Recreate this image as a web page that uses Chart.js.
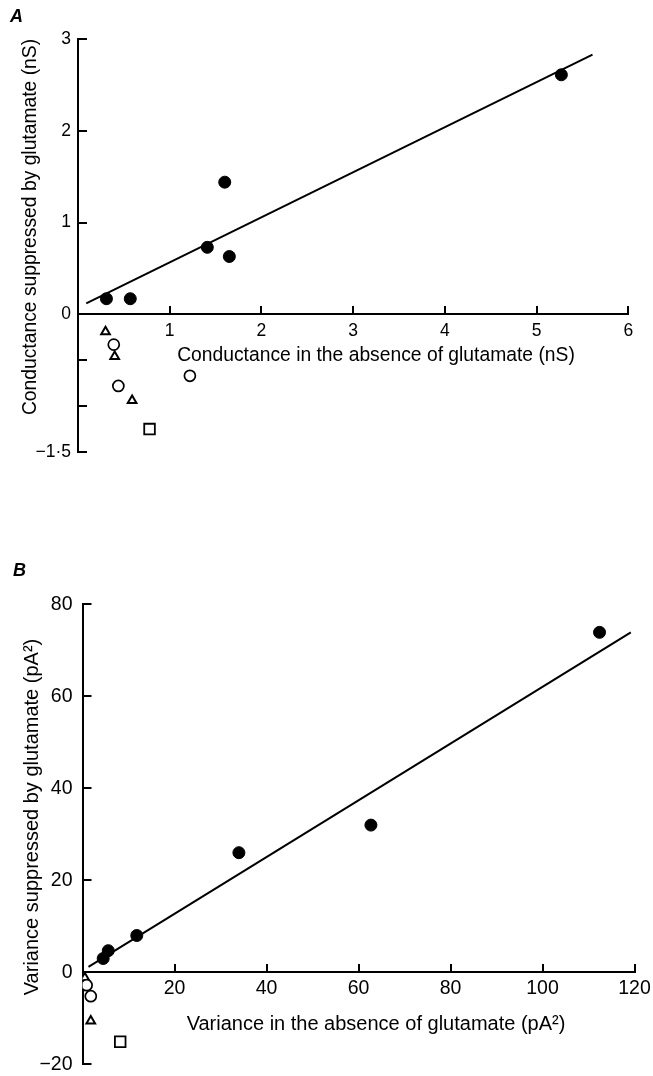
<!DOCTYPE html>
<html>
<head>
<meta charset="utf-8">
<script src="https://cdn.jsdelivr.net/npm/chart.js@4.4.1/dist/chart.umd.min.js"></script>
<style>
    html, body { margin: 0; padding: 0; background: #fff; }
    body { width: 653px; height: 1076px; position: relative; overflow: hidden; font-family: "Liberation Sans", Arial, sans-serif; color: #000; }
    .panel { position: absolute; left: 0; width: 680px; }
    .panel canvas { display: block; }
    .lbl { position: absolute; white-space: nowrap; line-height: 1; }
    .letter { font-style: italic; font-weight: bold; font-size: 18px; }
    .xtitle { transform: translate(-50%, -50%); }
    .ytitle { transform: translate(-50%, -50%) rotate(-90deg); }
</style>
</head>
<body>
<div class="panel" style="top:0;height:480px"><canvas id="chartA" width="680" height="480"></canvas></div>
<div class="panel" style="top:530px;height:580px"><canvas id="chartB" width="680" height="580"></canvas></div>

<div class="lbl letter" style="left:10px;top:7px">A</div>
<div class="lbl xtitle" style="left:376px;top:355px;font-size:19.3px">Conductance in the absence of glutamate (nS)</div>
<div class="lbl ytitle" style="left:30px;top:227px;font-size:19.3px">Conductance suppressed by glutamate (nS)</div>

<div class="lbl letter" style="left:13px;top:561px">B</div>
<div class="lbl xtitle" style="left:376px;top:1023px;font-size:20px">Variance in the absence of glutamate (pA²)</div>
<div class="lbl ytitle" style="left:31px;top:817px;font-size:20px">Variance suppressed by glutamate (pA²)</div>

<script>
// panel A: conductance (nS)
var aFilledX = [0.31, 0.57, 1.41, 1.60, 1.65, 5.27];
var aFilledY = [0.17, 0.17, 0.73, 1.44, 0.63, 2.61];
var aOpenX = [0.39, 0.44, 1.22];
var aOpenY = [-0.33, -0.78, -0.67];
var aTriX = [0.30, 0.40, 0.59];
var aTriY = [-0.19, -0.46, -0.94];
var aSquareX = [0.78];
var aSquareY = [-1.25];
var aFitX = [0.09, 5.61];
var aFitY = [0.12, 2.83];
var aXTicks = [1, 2, 3, 4, 5, 6];
var aYTicks = [-1.5, -1, -0.5, 0, 1, 2, 3];
var aYLabels = { '3': '3', '2': '2', '1': '1', '0': '0', '-1.5': '\u22121\u00b75' };

// panel B: variance (pA^2)
var bFilledX = [4.5, 5.6, 11.8, 34.0, 62.7, 112.4];
var bFilledY = [3.0, 4.7, 8.0, 26.0, 32.0, 73.9];
var bOpenX = [0.9, 1.8];
var bOpenY = [-2.8, -5.2];
var bTriX = [0.5, 1.8];
var bTriY = [-1.2, -10.6];
var bSquareX = [8.2];
var bSquareY = [-15.1];
var bFitX = [1.3, 119.2];
var bFitY = [1.2, 73.9];
var bXTicks = [20, 40, 60, 80, 100, 120];
var bYTicks = [-20, 0, 20, 40, 60, 80];
var bYLabels = { '80': '80', '60': '60', '40': '40', '20': '20', '0': '0', '-20': '\u221220' };

document.addEventListener('DOMContentLoaded', function () {
    // canvases are a bit larger than the page so the chart area is not squeezed by label padding
    makeChart('chartA', {
        filled: [aFilledX, aFilledY], open: [aOpenX, aOpenY], tri: [aTriX, aTriY],
        square: [aSquareX, aSquareY], fit: [aFitX, aFitY],
        xMax: 6, yMin: -1.5, yMax: 3, xTicks: aXTicks, yTicks: aYTicks, yLabels: aYLabels,
        fontSize: 17.5, yWidth: 78, xPad: 15, yPad: 16,
        padding: { top: 39, left: 0, right: 680 - 628.3, bottom: 28 }
    });
    makeChart('chartB', {
        filled: [bFilledX, bFilledY], open: [bOpenX, bOpenY], tri: [bTriX, bTriY],
        square: [bSquareX, bSquareY], fit: [bFitX, bFitY],
        xMax: 120, yMin: -20, yMax: 80, xTicks: bXTicks, yTicks: bYTicks, yLabels: bYLabels,
        fontSize: 19.5, yWidth: 82.5, xPad: 14, yPad: 19,
        padding: { top: 74.3, left: 0, right: 680 - 634.5, bottom: 580 - 534.3 }
    });
});

function toPoints(xs, ys) {
    return xs.map(function (x, i) {
        return { x: x, y: ys[i] };
    });
}

function makeChart(id, cfg) {
    var canvas = document.getElementById(id);
    var font = { family: 'Liberation Sans', size: cfg.fontSize };
    new Chart(canvas, {
        type: 'scatter',
        data: {
            datasets: [
                {
                    label: 'fit',
                    data: toPoints(cfg.fit[0], cfg.fit[1]),
                    showLine: true,
                    borderColor: '#000',
                    borderWidth: 2,
                    pointRadius: 0
                },
                {
                    label: 'filled',
                    data: toPoints(cfg.filled[0], cfg.filled[1]),
                    pointStyle: 'circle',
                    pointRadius: 6,
                    backgroundColor: '#000',
                    borderColor: '#000',
                    borderWidth: 1
                },
                {
                    label: 'open',
                    data: toPoints(cfg.open[0], cfg.open[1]),
                    pointStyle: 'circle',
                    pointRadius: 5.5,
                    backgroundColor: '#fff',
                    borderColor: '#000',
                    borderWidth: 1.7
                },
                {
                    label: 'triangle',
                    data: toPoints(cfg.tri[0], cfg.tri[1]),
                    pointStyle: 'triangle',
                    pointRadius: 5,
                    backgroundColor: '#fff',
                    borderColor: '#000',
                    borderWidth: 2
                },
                {
                    label: 'square',
                    data: toPoints(cfg.square[0], cfg.square[1]),
                    pointStyle: 'rect',
                    pointRadius: 7.5,
                    backgroundColor: '#fff',
                    borderColor: '#000',
                    borderWidth: 1.8
                }
            ]
        },
        options: {
            responsive: false,
            animation: false,
            events: [],
            layout: { padding: cfg.padding },
            plugins: {
                legend: { display: false },
                tooltip: { enabled: false }
            },
            scales: {
                x: {
                    type: 'linear',
                    min: 0,
                    max: cfg.xMax,
                    position: { y: 0 },
                    afterBuildTicks: function (scale) {
                        scale.ticks = cfg.xTicks.map(function (v) { return { value: v }; });
                    },
                    grid: { drawOnChartArea: false, drawTicks: true, tickLength: -9, color: '#000', lineWidth: 2 },
                    border: { display: true, color: '#000', width: 2 },
                    ticks: {
                        autoSkip: false,
                        maxRotation: 0,
                        color: '#000',
                        font: font,
                        padding: cfg.xPad,
                        callback: function (v) { return String(v); }
                    }
                },
                y: {
                    type: 'linear',
                    min: cfg.yMin,
                    max: cfg.yMax,
                    position: 'left',
                    afterFit: function (scale) {
                        scale.width = cfg.yWidth;
                    },
                    afterBuildTicks: function (scale) {
                        scale.ticks = cfg.yTicks.map(function (v) { return { value: v }; });
                    },
                    grid: { drawOnChartArea: false, drawTicks: true, tickLength: -9, color: '#000', lineWidth: 2 },
                    border: { display: true, color: '#000', width: 2 },
                    ticks: {
                        autoSkip: false,
                        color: '#000',
                        font: font,
                        padding: cfg.yPad,
                        callback: function (v) {
                            var s = cfg.yLabels[String(v)];
                            return s === undefined ? '' : s;
                        }
                    }
                }
            }
        }
    });
}
</script>
</body>
</html>
